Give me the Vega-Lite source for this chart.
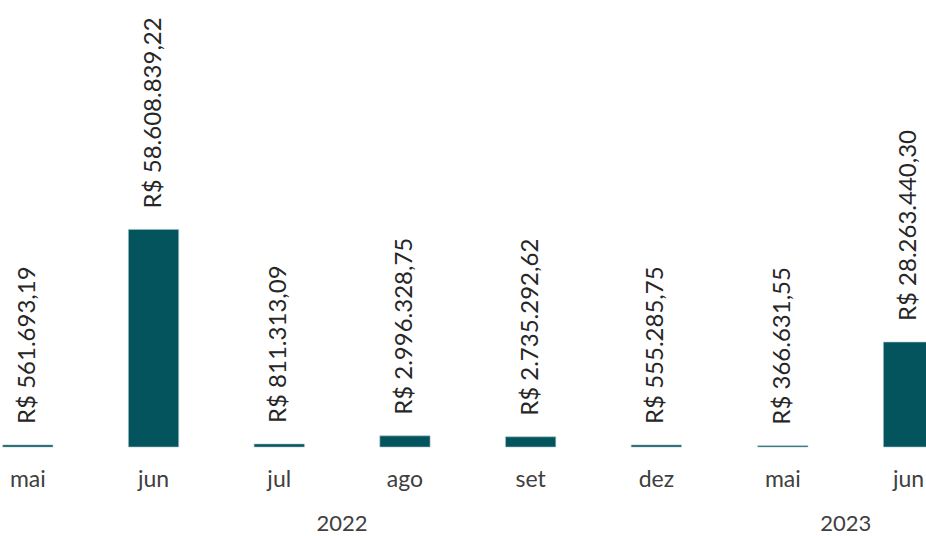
{
  "$schema": "https://vega.github.io/schema/vega-lite/v6.json",
  "autosize": {"type": "pad"},
  "padding": {"left": -35, "top": 7, "right": -45, "bottom": 0},
  "background": "white",
  "config": {"view": {"stroke": null}, "font": "Lato"},
  "data": {
    "values": [
      {"year": "2022", "key": "2022-mai", "month": "mai", "value": 561693.19, "label": "R$ 561.693,19"},
      {"year": "2022", "key": "2022-jun", "month": "jun", "value": 58608839.22, "label": "R$ 58.608.839,22"},
      {"year": "2022", "key": "2022-jul", "month": "jul", "value": 811313.09, "label": "R$ 811.313,09"},
      {"year": "2022", "key": "2022-ago", "month": "ago", "value": 2996328.75, "label": "R$ 2.996.328,75"},
      {"year": "2022", "key": "2022-set", "month": "set", "value": 2735292.62, "label": "R$ 2.735.292,62"},
      {"year": "2022", "key": "2022-dez", "month": "dez", "value": 555285.75, "label": "R$ 555.285,75"},
      {"year": "2023", "key": "2023-mai", "month": "mai", "value": 366631.55, "label": "R$ 366.631,55"},
      {"year": "2023", "key": "2023-jun", "month": "jun", "value": 28263440.30, "label": "R$ 28.263.440,30"}
    ]
  },
  "facet": {
    "column": {
      "field": "year",
      "type": "nominal",
      "header": {
        "title": null,
        "labelOrient": "bottom",
        "labelFontSize": 22,
        "labelColor": "#404040",
        "labelFont": "Lato",
        "labelPadding": 23
      }
    }
  },
  "spacing": 0,
  "resolve": {"scale": {"x": "independent"}},
  "spec": {
    "width": {"step": 125.7},
    "height": 440,
    "encoding": {
      "x": {
        "field": "key",
        "type": "nominal",
        "sort": null,
        "scale": {"paddingInner": 0.6, "paddingOuter": 0.3},
        "axis": {
          "title": null,
          "labelExpr": "split(datum.value, '-')[1]",
          "labelAngle": 0,
          "labelFontSize": 23,
          "labelColor": "#404040",
          "labelPadding": 21,
          "ticks": false,
          "domain": false,
          "grid": false
        }
      },
      "y": {
        "field": "value",
        "type": "quantitative",
        "scale": {"domain": [0, 118500000], "nice": false},
        "axis": null
      }
    },
    "layer": [
      {"mark": {"type": "bar", "color": "#04545E", "stroke": "#a9c4c8", "strokeWidth": 0.6}},
      {
        "mark": {"type": "text", "angle": -90, "align": "left", "baseline": "middle", "dx": 21, "fontSize": 24, "color": "#262626"},
        "encoding": {"text": {"field": "label"}}
      }
    ]
  }
}
